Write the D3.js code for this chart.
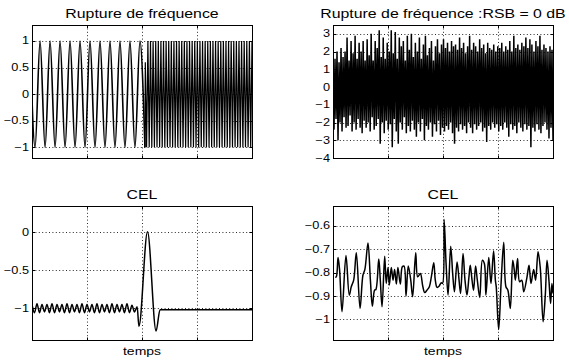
<!DOCTYPE html>
<html>
<head>
<meta charset="utf-8">
<script src="https://cdn.jsdelivr.net/npm/d3@7"></script>
<style>
body{margin:0;background:#fff}
text{font-family:"Liberation Sans",Arial,Helvetica,sans-serif;fill:#000}
</style>
</head>
<body>
<svg id="fig" width="569" height="364"></svg>
<script>
// ---- donnees ----
var xGrid = [250, 500, 750];           // graduations temps (sans libelle)

// haut gauche : sinus basse freq (extrema) puis haute freq
var lowStart = -8.7, lowStep = 22.7;
var lowVals = [1,-1,1,-1,1,-1,1,-1,1,-1,1,-1,1,-1,1,-1,1,-1,1,-1,1,-1,1,-1];
var hfStart = 515, hfEnd = 1000;
var hfVals = [0.6,-1,1,-1,1,-1,1,-1,1,-1,1,-1,1,-1,1,-1,1,-1,1,-1,1,-1,1,-1,1,-1,1,-1,1,-1,1,-1,1,
  -1,1,-1,1,-1,1,-1,1,-1,1,-1,1,-1,1,-1,1,-1,1,-1,1,-1,1,-1,1,-1,1,-1,1,-1,1,-1,1,-1,1,-1,1,-1,1,
  -1,1,-1,1,-1,1,-1,1,-1,1,-1,1];
var tlTicks = [-1, -0.5, 0, 0.5, 1];

// haut droite : signal bruite (enveloppes haute / basse)
var noisyUp = [2.1,1.6,2.0,1.4,2.2,1.7,2.0,
  2.8,1.5,2.6,1.9,2.9,1.6,2.5,2.0,2.6,1.5,
  2.7,1.8,3.0,1.5,2.6,2.2,3.2,1.7,2.8,1.6,2.5,2.0,
  3.2,1.9,3.1,1.6,2.8,2.3,2.6,1.5,2.9,2.1,3.0,
  1.7,2.5,2.0,2.8,1.6,2.4,2.9,1.8,2.2,2.6,1.5,2.3,2.7,1.9,2.4,
  2.7,2.2,2.5,2.0,2.6,2.3,2.4,2.1,2.8,2.2,2.5,1.9,2.3,
  2.9,2.1,2.5,2.3,2.0,2.7,2.2,2.4,1.9,2.5,2.2,2.1,2.4,2.0,2.3,
  2.2,2.5,2.0,2.3,2.1,2.6,2.0,2.9,2.2,2.4,2.1,2.5,2.3,
  2.8,2.2,2.7,2.4,2.0,2.6,2.3,2.9,2.1,2.4,2.2,2.0,2.3,2.1];
var noisyLow = [-2.4,-1.8,-3.0,-2.0,-2.5,-1.7,-2.3,
  -2.2,-1.6,-2.5,-2.0,-2.4,-1.8,-2.3,-2.6,-1.9,-2.3,
  -2.0,-2.5,-1.7,-2.4,-2.2,-1.8,-3.2,-2.0,-2.6,-1.9,-2.4,-2.1,
  -3.4,-1.8,-2.5,-3.2,-2.0,-2.4,-1.7,-2.6,-2.2,-2.5,-1.9,
  -2.4,-2.8,-2.0,-2.5,-1.8,-3.0,-2.2,-2.4,-2.0,-2.8,-2.1,-2.5,-1.9,-2.7,-2.3,
  -2.5,-2.2,-2.4,-2.0,-2.6,-3.2,-2.3,-2.5,-2.1,-2.4,-2.2,-2.6,-2.0,
  -2.3,-2.6,-2.1,-2.4,-2.2,-2.0,-2.5,-2.3,-3.1,-2.2,-2.4,-2.0,-2.3,-2.1,-2.5,
  -2.2,-2.4,-2.0,-2.3,-2.8,-2.1,-2.4,-2.2,-2.6,-2.0,-2.3,-2.5,-2.1,
  -2.4,-2.2,-3.4,-2.3,-2.5,-2.1,-2.4,-2.6,-2.2,-2.0,-2.4,-2.9,-2.3,-3.0];
var trTicks = [-4,-3,-2,-1,0,1,2,3];

// bas gauche : CEL sans bruit
var rippleStep = 11.36;
var celRipple = [-0.95,-1.06,-0.94,-1.06,-0.95,-1.05,-0.95,-1.06,-0.94,-1.06,-0.95,-1.05,-0.95,-1.06,
  -0.94,-1.06,-0.95,-1.05,-0.95,-1.06,-0.94,-1.06,-0.95,-1.05,-0.95,-1.06,-0.94,-1.06,
  -0.95,-1.05,-0.95,-1.06,-0.94,-1.06,-0.95,-1.05,-0.95,-1.06,-0.94,-1.06,-0.96,-1.05];
var pulseX = [478, 486, 525, 564, 582, 1000];
var pulseY = [-0.98, -1.24, 0.01, -1.30, -1.02, -1.02];
var blTicks = [-1, -0.5, 0];

// bas droite : CEL avec bruit
var celNoiseX = [10,15,23,30,41,59,74,83,94,106,123,136,145,159,170,179,189,195,208,215,223,235,242,250,256,
  265,273,280,288,295,306,315,323,332,342,353,362,376,385,397,408,417,427,438,447,458,465,473,482,492,
  498,505,514,523,535,544,552,564,573,580,591,600,609,618,624,632,639,648,656,667,679,688,695,708,718,
  730,738,742,753,764,776,786,795,806,817,824,829,839,848,858,867,882,891,900,912,921,932,942,955,965,
  973,982,989,995,1000];
var celNoiseY = [-0.82,-0.818,-0.735,-0.789,-0.967,-0.727,-0.896,-0.860,-0.832,-0.715,-0.953,-0.811,-0.786,
  -0.673,-0.832,-0.943,-0.875,-0.872,-0.742,-0.832,-0.946,-0.730,-0.846,-0.778,-0.853,-0.778,-0.832,
  -0.786,-0.849,-0.778,-0.849,-0.775,-0.772,-0.900,-0.772,-0.829,-0.903,-0.715,-0.818,-0.804,-0.858,
  -0.885,-0.875,-0.860,-0.818,-0.758,-0.832,-0.863,-0.858,-0.843,-0.846,-0.573,-0.761,-0.896,-0.687,
  -0.804,-0.882,-0.754,-0.832,-0.889,-0.718,-0.832,-0.896,-0.818,-0.768,-0.832,-0.875,-0.772,-0.832,
  -0.906,-0.747,-0.761,-0.896,-0.735,-0.846,-0.707,-0.832,-0.860,-1.043,-0.846,-0.670,-0.860,-0.875,
  -0.953,-0.747,-0.789,-0.832,-0.740,-0.839,-0.832,-0.882,-0.818,-0.768,-0.846,-0.786,-0.832,-0.711,
  -0.778,-1.010,-0.896,-0.747,-0.839,-0.932,-0.846,-0.889];
var brTicks = [-1,-0.9,-0.8,-0.7,-0.6];

// ---- mise en page ----
var SX = 1.27; // la figure d'origine est etiree horizontalement
var svg = d3.select("#fig");
var fmt = function(v){ return (v < 0 ? "\u2212" : "") + d3.format("")(Math.abs(v)); };

function txt(g, x, y, s, size, anchor){
  g.append("text")
    .attr("transform", "translate(" + x + "," + y + ") scale(" + SX + ",1)")
    .attr("text-anchor", anchor)
    .style("font-size", size + "px")
    .text(s);
}

function panel(id, box, ydom, yticks, title, xlab){
  var g = svg.append("g");
  var x = d3.scaleLinear().domain([0, 1000]).range([box[0], box[2]]);
  var y = d3.scaleLinear().domain(ydom).range([box[3], box[1]]);

  // grille pointillee
  g.selectAll(".gx").data(xGrid).enter().append("line")
    .attr("x1", function(d){ return Math.round(x(d)) + 0.5; })
    .attr("x2", function(d){ return Math.round(x(d)) + 0.5; })
    .attr("y1", box[1]).attr("y2", box[3])
    .attr("stroke", "#111").attr("stroke-width", 0.9).attr("stroke-dasharray", "1,2.4");
  g.selectAll(".gy").data(yticks).enter().append("line")
    .attr("y1", function(d){ return Math.round(y(d)) + 0.5; })
    .attr("y2", function(d){ return Math.round(y(d)) + 0.5; })
    .attr("x1", box[0]).attr("x2", box[2])
    .attr("stroke", "#111").attr("stroke-width", 0.9).attr("stroke-dasharray", "1,2.4");

  svg.append("clipPath").attr("id", "clip" + id).append("rect")
    .attr("x", box[0]).attr("y", box[1]).attr("width", box[2] - box[0]).attr("height", box[3] - box[1]);
  var plot = g.append("g").attr("clip-path", "url(#clip" + id + ")");

  // cadre + graduations internes
  g.append("rect").attr("x", box[0] + 0.5).attr("y", box[1] + 0.5)
    .attr("width", box[2] - box[0]).attr("height", box[3] - box[1])
    .attr("fill", "none").attr("stroke", "#000").attr("stroke-width", 1);
  g.selectAll(".ty").data(yticks).enter().append("path")
    .attr("d", function(d){
      var yy = Math.round(y(d)) + 0.5;
      return "M" + box[0] + "," + yy + "h3M" + (box[2] + 0.5) + "," + yy + "h-3";
    })
    .attr("stroke", "#000");
  g.selectAll(".tx").data(xGrid).enter().append("path")
    .attr("d", function(d){
      var xx = Math.round(x(d)) + 0.5;
      return "M" + xx + "," + (box[3] + 0.5) + "v-3M" + xx + "," + box[1] + "v3";
    })
    .attr("stroke", "#000");

  yticks.forEach(function(t){ txt(g, box[0] - 3, y(t) + 3.5, fmt(t), 10, "end"); });
  txt(g, (box[0] + box[2]) / 2, box[1] - 7, title, 12.5, "middle");
  if (xlab) txt(g, (box[0] + box[2]) / 2, box[3] + 15, xlab, 11, "middle");

  return {x: x, y: y, plot: plot};
}

// 1) rupture de frequence
var p1 = panel(1, [32, 25, 252, 158], [-1.2, 1.3], tlTicks, "Rupture de fréquence");
var lowIdx = d3.scaleLinear().domain([0, 1]).range([lowStart, lowStart + lowStep]);
p1.plot.append("path")
  .datum(lowVals)
  .attr("d", d3.line().curve(d3.curveMonotoneX)
    .x(function(d, i){ return p1.x(lowIdx(i)); })
    .y(function(d){ return p1.y(d); }))
  .attr("fill", "none").attr("stroke", "#000").attr("stroke-width", 1.6);
var hfIdx = d3.scaleLinear().domain([0, hfVals.length - 1]).range([hfStart, hfEnd]);
p1.plot.append("path")
  .datum([lowVals[lowVals.length - 1]].concat(hfVals))
  .attr("d", d3.line()
    .x(function(d, i){ return p1.x(i === 0 ? lowIdx(lowVals.length - 1) : hfIdx(i - 1)); })
    .y(function(d){ return p1.y(d); }))
  .attr("fill", "none").attr("stroke", "#000").attr("stroke-width", 1.2);

// 2) avec bruit
var p2 = panel(2, [333, 25, 553, 158], [-4, 3.5], trTicks, "Rupture de fréquence :RSB = 0 dB");
var noisy = [];
noisyUp.forEach(function(u, i){ noisy.push(u, noisyLow[i]); });
var nIdx = d3.scaleLinear().domain([0, noisy.length - 1]).range([0, 1000]);
p2.plot.append("path")
  .datum(noisy)
  .attr("d", d3.line()
    .x(function(d, i){ return p2.x(nIdx(i)); })
    .y(function(d){ return p2.y(d); }))
  .attr("fill", "none").attr("stroke", "#000").attr("stroke-width", 1.5);

// 3) CEL
var p3 = panel(3, [32, 206, 252, 340], [-1.42, 0.35], blTicks, "CEL", "temps");
var celPts = celRipple.map(function(v, i){ return [i * rippleStep, v]; });
pulseX.forEach(function(px, i){ celPts.push([px, pulseY[i]]); });
p3.plot.append("path")
  .datum(celPts)
  .attr("d", d3.line().curve(d3.curveMonotoneX)
    .x(function(d){ return p3.x(d[0]); })
    .y(function(d){ return p3.y(d[1]); }))
  .attr("fill", "none").attr("stroke", "#000").attr("stroke-width", 1.5);

// 4) CEL bruitee
var p4 = panel(4, [333, 206, 553, 340], [-1.088, -0.515], brTicks, "CEL", "temps");
p4.plot.append("path")
  .datum(celNoiseX.map(function(v, i){ return [v, celNoiseY[i]]; }))
  .attr("d", d3.line().curve(d3.curveCatmullRom.alpha(0.5))
    .x(function(d){ return p4.x(d[0]); })
    .y(function(d){ return p4.y(d[1]); }))
  .attr("fill", "none").attr("stroke", "#000").attr("stroke-width", 1.5);
</script>
</body>
</html>
